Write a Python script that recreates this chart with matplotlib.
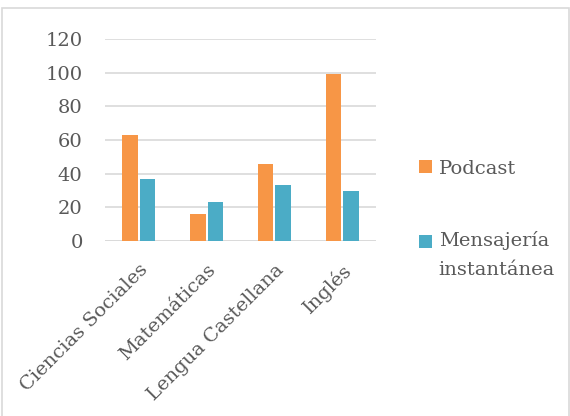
import matplotlib
matplotlib.use('Agg')
import matplotlib.pyplot as plt
import numpy as np
from matplotlib.patches import Rectangle, Patch

# ── Data ──────────────────────────────────────────────────────────────────────
categories = ['Ciencias Sociales', 'Matemáticas', 'Lengua Castellana', 'Inglés']
podcast    = [63, 16, 46, 99]
mensajeria = [37, 23, 33, 30]
series_names = ['Podcast', 'Mensajería\ninstantánea']

ORANGE = '#F79646'
BLUE   = '#4BACC6'
TXT    = '#595959'
GRID   = '#D9D9D9'

plt.rcParams['font.family'] = ['DejaVu Serif']

fig = plt.figure(figsize=(5.7, 4.16), dpi=100)
ax = fig.add_axes([0.184, 0.4207, 0.476, 0.4853])

# outer chart border
fig.patches.append(Rectangle((0.004, -0.01), 0.995, 0.99, transform=fig.transFigure,
                             fill=False, edgecolor=GRID, linewidth=1.2))

x = np.arange(len(categories))
w = 0.23
ax.bar(x - 0.13, podcast,    width=w, color=ORANGE, zorder=3)
ax.bar(x + 0.13, mensajeria, width=w, color=BLUE,   zorder=3)

ax.set_xlim(-0.5, len(categories) - 0.5)
ax.set_ylim(0, 120)
ax.set_yticks(range(0, 121, 20))
ax.yaxis.grid(True, color=GRID, linewidth=1.2, zorder=0)
for s in ax.spines.values():
    s.set_visible(False)
ax.axhline(0, color=GRID, linewidth=1.2, zorder=2)

ax.set_xticks(x)
ax.set_xticklabels(categories, rotation=45, ha='right', rotation_mode='anchor')
ax.tick_params(axis='both', length=0, labelsize=14, colors=TXT)
ax.tick_params(axis='y', pad=16)
ax.tick_params(axis='x', pad=14)

handles = [Patch(facecolor=ORANGE), Patch(facecolor=BLUE)]
leg = fig.legend(handles, series_names, loc='center left', bbox_to_anchor=(0.705, 0.473),
                 frameon=False, fontsize=14, labelcolor=TXT, handlelength=0.65,
                 handleheight=0.65, handletextpad=0.35, labelspacing=2.77)
for t in leg.get_texts():
    t.set_linespacing(1.75)
# Excel puts the marker next to the first line of a wrapped label
p = leg.get_patches()[1]
p.set_y(p.get_y() + 10)

fig.savefig('out.png', dpi=100)
